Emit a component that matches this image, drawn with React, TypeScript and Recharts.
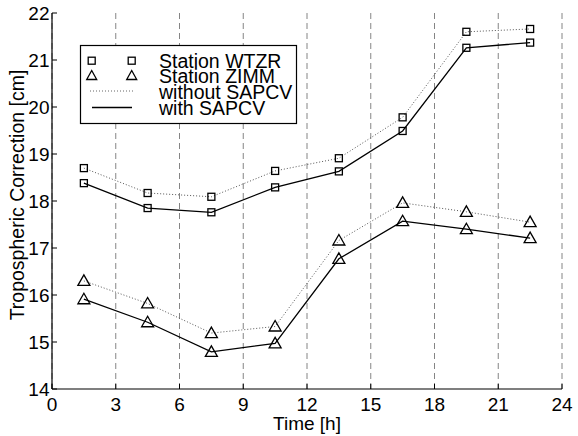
import React from 'react';
import { LineChart, Line, XAxis, YAxis, CartesianGrid } from 'recharts';

const hours = [1.5, 4.5, 7.5, 10.5, 13.5, 16.5, 19.5, 22.5];
const wtzrWithout = [18.70, 18.17, 18.09, 18.64, 18.91, 19.78, 21.60, 21.66];
const wtzrWith = [18.38, 17.85, 17.76, 18.29, 18.63, 19.49, 21.26, 21.37];
const zimmWithout = [16.30, 15.82, 15.19, 15.33, 17.16, 17.96, 17.77, 17.55];
const zimmWith = [15.91, 15.42, 14.79, 14.97, 16.77, 17.57, 17.40, 17.21];
const xTicks = [0, 3, 6, 9, 12, 15, 18, 21, 24];
const yTicks = [14, 15, 16, 17, 18, 19, 20, 21, 22];
const legendLabels = ['Station WTZR', 'Station ZIMM', 'without SAPCV', 'with SAPCV'];
const xTitle = 'Time [h]';
const yTitle = 'Tropospheric Correction [cm]';

const data = hours.map((h, i) => ({
  h,
  wtzrWithout: wtzrWithout[i],
  wtzrWith: wtzrWith[i],
  zimmWithout: zimmWithout[i],
  zimmWith: zimmWith[i],
}));

const FONT = '"Liberation Sans", Arial, Helvetica, sans-serif';
const FS = 19;
const TL = 5;

const Square = (props: any) => {
  const { cx, cy, index } = props;
  if (cx == null || cy == null) return null;
  return <rect key={`s-${index}`} x={cx - 3.5} y={cy - 3.5} width={7} height={7} fill="none" stroke="#000" strokeWidth={1.3} />;
};

const Triangle = (props: any) => {
  const { cx, cy, index } = props;
  if (cx == null || cy == null) return null;
  const w = 6;
  return (
    <path
      key={`t-${index}`}
      d={`M${cx},${cy - 6} L${cx + w},${cy + 4.5} L${cx - w},${cy + 4.5} Z`}
      fill="none"
      stroke="#000"
      strokeWidth={1.3}
    />
  );
};

const BottomTick = (props: any) => {
  const { x, y, payload } = props;
  return (
    <g>
      <line x1={x} y1={y} x2={x} y2={y - TL} stroke="#000" strokeWidth={1} />
      <text x={x} y={y + 22} textAnchor="middle" fontSize={FS} fontFamily={FONT} fill="#000">
        {payload.value}
      </text>
    </g>
  );
};

const TopTick = (props: any) => {
  const { x, y } = props;
  return <line x1={x} y1={y} x2={x} y2={y + TL} stroke="#000" strokeWidth={1} />;
};

const LeftTick = (props: any) => {
  const { x, y, payload } = props;
  return (
    <g>
      <line x1={x} y1={y} x2={x + TL} y2={y} stroke="#000" strokeWidth={1} />
      <text x={x - 2.5} y={y + 6.8} textAnchor="end" fontSize={FS} fontFamily={FONT} fill="#000">
        {payload.value}
      </text>
    </g>
  );
};

const RightTick = (props: any) => {
  const { x, y } = props;
  return <line x1={x} y1={y} x2={x - TL} y2={y} stroke="#000" strokeWidth={1} />;
};

const Legend = () => {
  const L = 80;
  const T = 45;
  const rows = [60.7, 75.5, 91, 107.5].map((r) => r - T);
  const mx = [91.7 - L, 131.7 - L];
  return (
    <svg
      width={218}
      height={80}
      style={{ position: 'absolute', left: L, top: T, overflow: 'visible' }}
    >
      <rect x={0.5} y={0.5} width={216} height={78} fill="#fff" stroke="#000" strokeWidth={1.2} />
      {mx.map((cx) => (
        <rect key={`ls-${cx}`} x={cx - 3.5} y={rows[0] - 3.5} width={7} height={7} fill="none" stroke="#000" strokeWidth={1.3} />
      ))}
      {mx.map((cx) => (
        <path
          key={`lt-${cx}`}
          d={`M${cx},${rows[1] - 5} L${cx + 5},${rows[1] + 4} L${cx - 5},${rows[1] + 4} Z`}
          fill="none"
          stroke="#000"
          strokeWidth={1.3}
        />
      ))}
      <line x1={10} y1={rows[2]} x2={54} y2={rows[2]} stroke="#666" strokeWidth={1} strokeDasharray="1 2" />
      <line x1={12} y1={rows[3]} x2={52} y2={rows[3]} stroke="#000" strokeWidth={1.3} />
      {legendLabels.map((t, i) => (
        <text key={t} x={79} y={rows[i] + 7.5} fontSize={19.5} fontFamily={FONT} fill="#000">
          {t}
        </text>
      ))}
    </svg>
  );
};

export default function App() {
  return (
    <div style={{ position: 'absolute', left: 0, top: 0, width: 578, height: 436, background: '#fff' }}>
      <LineChart
        width={578}
        height={436}
        data={data}
        margin={{ top: 13, right: 16, bottom: 0, left: 0 }}
      >
        <CartesianGrid
          xAxisId="b"
          yAxisId="l"
          vertical
          horizontal={false}
          stroke="#777"
          strokeDasharray="6 4"
          strokeWidth={0.9}
        />
        <XAxis
          xAxisId="b"
          dataKey="h"
          type="number"
          domain={[0, 24]}
          ticks={xTicks}
          interval={0}
          orientation="bottom"
          height={47}
          tickSize={0}
          tickMargin={0}
          tick={BottomTick}
          axisLine={{ stroke: '#000', strokeWidth: 1.2 }}
          tickLine={false}
        />
        <XAxis
          xAxisId="t"
          dataKey="h"
          type="number"
          domain={[0, 24]}
          ticks={xTicks}
          interval={0}
          orientation="top"
          height={0}
          tickSize={0}
          tickMargin={0}
          tick={TopTick}
          axisLine={{ stroke: '#000', strokeWidth: 1.2 }}
          tickLine={false}
        />
        <YAxis
          yAxisId="l"
          type="number"
          domain={[14, 22]}
          ticks={yTicks}
          interval={0}
          orientation="left"
          width={52}
          tickSize={0}
          tickMargin={0}
          tick={LeftTick}
          axisLine={{ stroke: '#000', strokeWidth: 1.2 }}
          tickLine={false}
        />
        <YAxis
          yAxisId="r"
          type="number"
          domain={[14, 22]}
          ticks={yTicks}
          interval={0}
          orientation="right"
          width={0}
          tickSize={0}
          tickMargin={0}
          tick={RightTick}
          axisLine={{ stroke: '#000', strokeWidth: 1.2 }}
          tickLine={false}
        />
        <Line xAxisId="b" yAxisId="l" dataKey="wtzrWithout" stroke="#555" strokeWidth={1} strokeDasharray="1 2" dot={Square} isAnimationActive={false} />
        <Line xAxisId="b" yAxisId="l" dataKey="wtzrWith" stroke="#000" strokeWidth={1.3} dot={Square} isAnimationActive={false} />
        <Line xAxisId="b" yAxisId="l" dataKey="zimmWithout" stroke="#555" strokeWidth={1} strokeDasharray="1 2" dot={Triangle} isAnimationActive={false} />
        <Line xAxisId="b" yAxisId="l" dataKey="zimmWith" stroke="#000" strokeWidth={1.3} dot={Triangle} isAnimationActive={false} />
        <text x={307} y={430} textAnchor="middle" fontSize={FS} fontFamily={FONT} fill="#000">
          {xTitle}
        </text>
        <text x={24} y={195} textAnchor="middle" fontSize={19.5} fontFamily={FONT} fill="#000" transform="rotate(-90 24 195)">
          {yTitle}
        </text>
      </LineChart>
      <Legend />
    </div>
  );
}
